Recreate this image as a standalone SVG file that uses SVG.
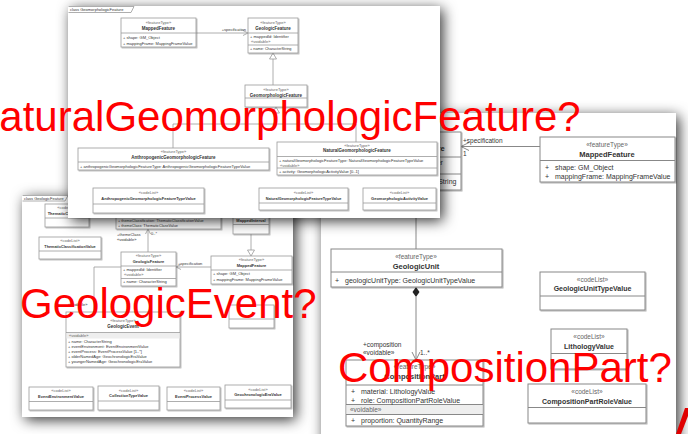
<svg xmlns="http://www.w3.org/2000/svg" width="688" height="434" viewBox="0 0 688 434">
<defs>
<filter id="psh" x="-20%" y="-20%" width="145%" height="145%"><feDropShadow dx="3" dy="3" stdDeviation="7" flood-color="#000" flood-opacity="0.8"/></filter>
<filter id="bsh" x="-10%" y="-10%" width="125%" height="130%"><feDropShadow dx="1" dy="1" stdDeviation="0.7" flood-color="#000" flood-opacity="0.3"/></filter>
</defs>
<style>
.tx{font-family:"Liberation Sans",Arial,sans-serif;fill:#333}
.s4{font-size:4px}.s38{font-size:3.8px}.s45{font-size:4.5px}
.s65{font-size:6.5px}.s7{font-size:7px}.s75{font-size:7.5px}
.b{font-weight:bold}
.c{text-anchor:middle}
.e{text-anchor:end}
.st{fill:#666}
.box{fill:#fff;stroke:#999;stroke-width:0.8;filter:url(#bsh)}
.boxr{fill:#fff;stroke:#888;stroke-width:1;filter:url(#bsh)}
.ln{stroke:#999;stroke-width:0.8;fill:none}
.lnr{stroke:#888;stroke-width:1;fill:none}
.tri{fill:#fff;stroke:#999;stroke-width:0.8}
.big{font-family:"Liberation Sans",Arial,sans-serif;font-size:42px;fill:#ff0000}
</style>
<rect width="688" height="434" fill="#fff"/>

<!-- RIGHT PANEL -->
<g id="right-panel">
<rect x="321" y="113" width="355" height="335" fill="#fff" filter="url(#psh)"/>
<g id="rp-connectors">
<line x1="461" y1="146.5" x2="540" y2="146.5" class="lnr"/>
<polyline points="469,142.5 461,146.5 469,150.5" class="lnr"/>
<text x="463" y="143" class="tx s65">+specification</text>
<text x="463" y="156" class="tx s65">1</text>
<line x1="416" y1="200" x2="416" y2="249" class="lnr"/>
<polygon points="416,287 412.5,292 416,297 419.5,292" fill="#222"/>
<line x1="416" y1="297" x2="416" y2="360" class="lnr"/>
<polyline points="412,352 416,360 420,352" class="lnr"/>
<text x="363" y="346.5" class="tx s65">+composition</text>
<text x="363" y="355" class="tx s65">«voidable»</text>
<text x="420" y="355" class="tx s65">1..*</text>
</g>
<g id="rp-geologic-feature">
<rect x="369" y="132" width="92" height="58" class="boxr"/>
<line x1="369" y1="157" x2="461" y2="157" class="lnr"/>
<line x1="369" y1="174" x2="461" y2="174" class="lnr"/>
<text x="415" y="142" class="tx s65 c st">«featureType»</text>
<text x="415" y="151" class="tx s75 c b">GeologicFeature</text>
<text y="165" class="tx s7"><tspan x="372">+</tspan><tspan x="381">mappedId:  Identifier</tspan></text>
<text x="372" y="171" class="tx s65 st">«voidable»</text>
<text y="184" class="tx s7"><tspan x="372">+</tspan><tspan x="386">name:  CharacterString</tspan></text>
</g>
<g id="rp-mapped-feature">
<rect x="540" y="137" width="135" height="45" class="boxr"/>
<line x1="540" y1="160.5" x2="675" y2="160.5" class="lnr"/>
<text x="607" y="147" class="tx s65 c st">«featureType»</text>
<text x="607" y="157" class="tx s75 c b">MappedFeature</text>
<text y="170" class="tx s7"><tspan x="545">+</tspan><tspan x="555">shape:  GM_Object</tspan></text>
<text y="179" class="tx s7"><tspan x="545">+</tspan><tspan x="555">mappingFrame:  MappingFrameValue</tspan></text>
</g>
<g id="rp-geologic-unit">
<rect x="331" y="249" width="171" height="38" class="boxr"/>
<line x1="331" y1="272" x2="502" y2="272" class="lnr"/>
<text x="416" y="259" class="tx s65 c st">«featureType»</text>
<text x="416" y="268.5" class="tx s75 c b">GeologicUnit</text>
<text y="282.5" class="tx s7"><tspan x="335">+</tspan><tspan x="345">geologicUnitType:  GeologicUnitTypeValue</tspan></text>
</g>
<g id="rp-composition-part">
<rect x="346" y="360" width="137" height="66" class="boxr"/>
<line x1="346" y1="385" x2="483" y2="385" class="lnr"/>
<rect x="346.5" y="404.5" width="136" height="10" fill="#eee"/>
<line x1="346" y1="404.5" x2="483" y2="404.5" class="lnr"/>
<line x1="346" y1="414.5" x2="483" y2="414.5" class="lnr"/>
<text x="414.5" y="369" class="tx s65 c st">«featureType»</text>
<text x="414.5" y="379" class="tx s75 c b">CompositionPart</text>
<text y="393.5" class="tx s7"><tspan x="351">+</tspan><tspan x="361">material:  LithologyValue</tspan></text>
<text y="402.5" class="tx s7"><tspan x="351">+</tspan><tspan x="361">role:  CompositionPartRoleValue</tspan></text>
<text x="350" y="412" class="tx s65 st">«voidable»</text>
<text y="422.5" class="tx s7"><tspan x="351">+</tspan><tspan x="361">proportion:  QuantityRange</tspan></text>
</g>
<g id="rp-geologic-unit-type-value">
<rect x="540" y="272" width="105" height="38" class="boxr"/>
<line x1="540" y1="296" x2="645" y2="296" class="lnr"/>
<text x="592.5" y="281.5" class="tx s65 c st">«codeList»</text>
<text x="592.5" y="291" class="tx s7 c b">GeologicUnitTypeValue</text>
</g>
<g id="rp-lithology-value">
<rect x="551" y="329" width="76" height="40" class="boxr"/>
<line x1="551" y1="353.5" x2="627" y2="353.5" class="lnr"/>
<text x="589" y="339" class="tx s65 c st">«codeList»</text>
<text x="589" y="349" class="tx s7 c b">LithologyValue</text>
</g>
<g id="rp-composition-part-role-value">
<rect x="528" y="384" width="118" height="39" class="boxr"/>
<line x1="528" y1="407.5" x2="646" y2="407.5" class="lnr"/>
<text x="587" y="394" class="tx s65 c st">«codeList»</text>
<text x="587" y="403.5" class="tx s7 c b">CompositionPartRoleValue</text>
</g>
</g>

<!-- LEFT PANEL -->
<g id="left-panel">
<rect x="22" y="195" width="271" height="222" fill="#fff" filter="url(#psh)"/>
<path d="M22.5,195.5 H68 L65,201 H22.5" class="ln"/>
<text x="24" y="200" class="tx s4">class GeologicFeature</text>
<g id="lp-connectors">
<line x1="148" y1="252" x2="148" y2="229" class="ln"/>
<polyline points="145.5,234 148,229 150.5,234" class="ln"/>
<text x="117" y="236" class="tx s4">+themeClass</text>
<text x="117" y="241" class="tx s4">«voidable»</text>
<text x="151" y="235" class="tx s4">0..*</text>
<line x1="176" y1="267" x2="211" y2="267" class="ln"/>
<polyline points="181,264.5 176,267 181,269.5" class="ln"/>
<text x="178" y="265" class="tx s4">+specification</text>
<line x1="251" y1="234" x2="251" y2="250" class="ln"/>
<polygon points="247.5,250 254.5,250 251,256" class="tri"/>
<polyline points="121,267 94,267 94,312" class="ln"/>
<text x="68" y="306" class="tx s4">«voidable»</text>
</g>
<g id="lp-thematic-class-value">
<rect x="45" y="204" width="44" height="23" class="box"/>
<line x1="45" y1="218" x2="89" y2="218" class="ln"/>
<text x="67" y="209" class="tx s4 c st">«codeList»</text>
<text x="67" y="214.5" class="tx s4 c b">ThematicClassValue</text>
</g>
<g id="lp-thematic-classification-value">
<rect x="39" y="237" width="62" height="22" class="box"/>
<line x1="39" y1="251" x2="101" y2="251" class="ln"/>
<text x="70" y="242" class="tx s4 c st">«codeList»</text>
<text x="70" y="247.5" class="tx s38 c b">ThematicClassificationValue</text>
</g>
<g id="lp-thematic-feature">
<rect x="116" y="196" width="105" height="33" class="box"/>
<text x="118" y="221.5" class="tx s38">+  themeClassification:  ThematicClassificationValue</text>
<text x="118" y="227" class="tx s38">+  themeClass:  ThematicClassValue</text>
</g>
<g id="lp-mapped-interval">
<rect x="233" y="196" width="36" height="38" class="box"/>
<line x1="233" y1="224.5" x2="269" y2="224.5" class="ln"/>
<text x="251" y="222" class="tx s4 c b">MappedInterval</text>
</g>
<g id="lp-geologic-feature">
<rect x="121" y="252" width="55" height="34" class="box"/>
<line x1="121" y1="266" x2="176" y2="266" class="ln"/>
<line x1="121" y1="278.5" x2="176" y2="278.5" class="ln"/>
<text x="148.5" y="257" class="tx s4 c st">«featureType»</text>
<text x="148.5" y="262.5" class="tx s4 c b">GeologicFeature</text>
<text x="123" y="271" class="tx s4">+  mappedId:  Identifier</text>
<text x="124" y="276" class="tx s4 st">«voidable»</text>
<text x="123" y="283" class="tx s4">+  name:  CharacterString</text>
</g>
<g id="lp-mapped-feature">
<rect x="211" y="256" width="81" height="28" class="box"/>
<line x1="211" y1="270" x2="292" y2="270" class="ln"/>
<text x="251.5" y="261" class="tx s4 c st">«featureType»</text>
<text x="251.5" y="266.5" class="tx s4 c b">MappedFeature</text>
<text x="213" y="275" class="tx s4">+  shape:  GM_Object</text>
<text x="213" y="280.5" class="tx s4">+  mappingFrame:  MappingFrameValue</text>
</g>
<g id="lp-geologic-event">
<rect x="66" y="312" width="114" height="55" class="box"/>
<line x1="66" y1="332.5" x2="180" y2="332.5" class="ln"/>
<rect x="66.5" y="333" width="113" height="5.5" fill="#eee"/>
<text x="123" y="322" class="tx s4 c st">«featureType»</text>
<text x="123" y="328" class="tx s45 c b">GeologicEvent</text>
<text x="69" y="337" class="tx s4 st">«voidable»</text>
<text x="68" y="342.5" class="tx s4">+  name:  CharacterString</text>
<text x="68" y="347.5" class="tx s4">+  eventEnvironment:  EventEnvironmentValue</text>
<text x="68" y="352.5" class="tx s4">+  eventProcess:  EventProcessValue [1..*]</text>
<text x="68" y="357.5" class="tx s4">+  olderNamedAge:  GeochronologicEraValue</text>
<text x="68" y="362.5" class="tx s4">+  youngerNamedAge:  GeochronologicEraValue</text>
</g>
<g id="lp-other-type">
<rect x="229" y="305" width="45" height="23" class="box"/>
<line x1="229" y1="319" x2="274" y2="319" class="ln"/>
</g>
<g id="lp-event-environment-value">
<rect x="29" y="387" width="64" height="23" class="box"/>
<line x1="29" y1="401.5" x2="93" y2="401.5" class="ln"/>
<text x="61" y="392" class="tx s4 c st">«codeList»</text>
<text x="61" y="397.5" class="tx s4 c b">EventEnvironmentValue</text>
</g>
<g id="lp-collection-type-value">
<rect x="98" y="386" width="61" height="24" class="box"/>
<line x1="98" y1="401" x2="159" y2="401" class="ln"/>
<text x="128.5" y="391.5" class="tx s4 c st">«codeList»</text>
<text x="128.5" y="397" class="tx s4 c b">CollectionTypeValue</text>
</g>
<g id="lp-event-process-value">
<rect x="167" y="387" width="53" height="23" class="box"/>
<line x1="167" y1="401.5" x2="220" y2="401.5" class="ln"/>
<text x="193.5" y="392" class="tx s4 c st">«codeList»</text>
<text x="193.5" y="397.5" class="tx s4 c b">EventProcessValue</text>
</g>
<g id="lp-geochronologic-era-value">
<rect x="225" y="385" width="66" height="23" class="box"/>
<line x1="225" y1="400" x2="291" y2="400" class="ln"/>
<text x="258" y="390.5" class="tx s4 c st">«codeList»</text>
<text x="258" y="396" class="tx s4 c b">GeochronologicEraValue</text>
</g>
</g>

<!-- TOP PANEL -->
<g id="top-panel">
<rect x="68" y="6" width="372" height="212" fill="#fff" filter="url(#psh)"/>
<path d="M68.5,6.5 H134 L131,12.5 H68.5" class="ln"/>
<text x="70" y="11" class="tx s4">class GeomorphologicFeature</text>
<g id="tp-connectors">
<line x1="196" y1="33" x2="248" y2="33" class="ln"/>
<polyline points="243,30.5 248,33 243,35.5" class="ln"/>
<text x="246" y="31" class="tx s4 e">+specification</text>
<line x1="273" y1="85" x2="273" y2="59" class="ln"/>
<polygon points="273,53 269.5,59 276.5,59" class="tri"/>
<line x1="276" y1="113" x2="276" y2="124" class="ln"/>
<polygon points="276,107 272.5,113 279.5,113" class="tri"/>
<polyline points="173,148 173,124 356,124 356,142" class="ln"/>
</g>
<g id="tp-mapped-feature">
<rect x="121" y="18" width="75" height="29" class="box"/>
<line x1="121" y1="33" x2="196" y2="33" class="ln"/>
<text x="158.5" y="24" class="tx s4 c st">«featureType»</text>
<text x="158.5" y="30" class="tx s45 c b">MappedFeature</text>
<text x="123" y="39" class="tx s4">+  shape:  GM_Object</text>
<text x="123" y="44.5" class="tx s4">+  mappingFrame:  MappingFrameValue</text>
</g>
<g id="tp-geologic-feature">
<rect x="248" y="18" width="50" height="35" class="box"/>
<line x1="248" y1="33" x2="298" y2="33" class="ln"/>
<line x1="248" y1="45" x2="298" y2="45" class="ln"/>
<text x="273" y="24" class="tx s4 c st">«featureType»</text>
<text x="273" y="30" class="tx s45 c b">GeologicFeature</text>
<text x="250" y="38" class="tx s4">+  mappedId:  Identifier</text>
<text x="251" y="43" class="tx s4 st">«voidable»</text>
<text x="250" y="50" class="tx s38">+  name:  CharacterString</text>
</g>
<g id="tp-geomorphologic-feature">
<rect x="245" y="85" width="62" height="22" class="box"/>
<line x1="245" y1="98" x2="307" y2="98" class="ln"/>
<text x="276" y="91" class="tx s4 c st">«featureType»</text>
<text x="276" y="96.5" class="tx s45 c b">GeomorphologicFeature</text>
</g>
<g id="tp-anthropogenic-feature">
<rect x="78" y="148" width="191" height="22" class="box"/>
<line x1="78" y1="162" x2="269" y2="162" class="ln"/>
<text x="173.5" y="153" class="tx s4 c st">«featureType»</text>
<text x="173.5" y="158.5" class="tx s45 c b">AnthropogenicGeomorphologicFeature</text>
<text x="80" y="167.5" class="tx s4">+  anthropogenicGeomorphologicFeatureType:  AnthropogenicGeomorphologicFeatureTypeValue</text>
</g>
<g id="tp-natural-feature">
<rect x="277" y="142" width="160" height="33" class="box"/>
<line x1="277" y1="156.5" x2="437" y2="156.5" class="ln"/>
<line x1="277" y1="168" x2="437" y2="168" class="ln"/>
<text x="357" y="146.5" class="tx s4 c st">«featureType»</text>
<text x="357" y="152" class="tx s45 c b">NaturalGeomorphologicFeature</text>
<text x="279" y="161.5" class="tx s4">+  naturalGeomorphologicFeatureType:  NaturalGeomorphologicFeatureTypeValue</text>
<text x="280" y="166.5" class="tx s4 st">«voidable»</text>
<text x="279" y="173" class="tx s4">+  activity:  GeomorphologicActivityValue [0..1]</text>
</g>
<g id="tp-anthropogenic-type-value">
<rect x="93" y="188" width="111" height="25" class="box"/>
<line x1="93" y1="204" x2="204" y2="204" class="ln"/>
<text x="148.5" y="194" class="tx s4 c st">«codeList»</text>
<text x="148.5" y="200" class="tx s4 c b">AnthropogenicGeomorphologicFeatureTypeValue</text>
</g>
<g id="tp-natural-type-value">
<rect x="259" y="188" width="89" height="22" class="box"/>
<line x1="259" y1="203" x2="348" y2="203" class="ln"/>
<text x="303.5" y="194" class="tx s4 c st">«codeList»</text>
<text x="303.5" y="199.5" class="tx s38 c b">NaturalGeomorphologicFeatureTypeValue</text>
</g>
<g id="tp-activity-value">
<rect x="363" y="188" width="73" height="22" class="box"/>
<line x1="363" y1="203" x2="436" y2="203" class="ln"/>
<text x="399.5" y="194" class="tx s4 c st">«codeList»</text>
<text x="399.5" y="199.5" class="tx s4 c b">GeomorphologicActivityValue</text>
</g>
</g>

<!-- QUESTION LABELS -->
<g id="labels">
<text x="-31" y="131" class="big">NaturalGeomorphologicFeature?</text>
<text x="20" y="318" class="big">GeologicEvent?</text>
<text x="338" y="382" class="big">CompositionPart?</text>
</g>
<polygon points="676,434 685,408 688,408 688,416 681,434" fill="#e00000"/>
</svg>
